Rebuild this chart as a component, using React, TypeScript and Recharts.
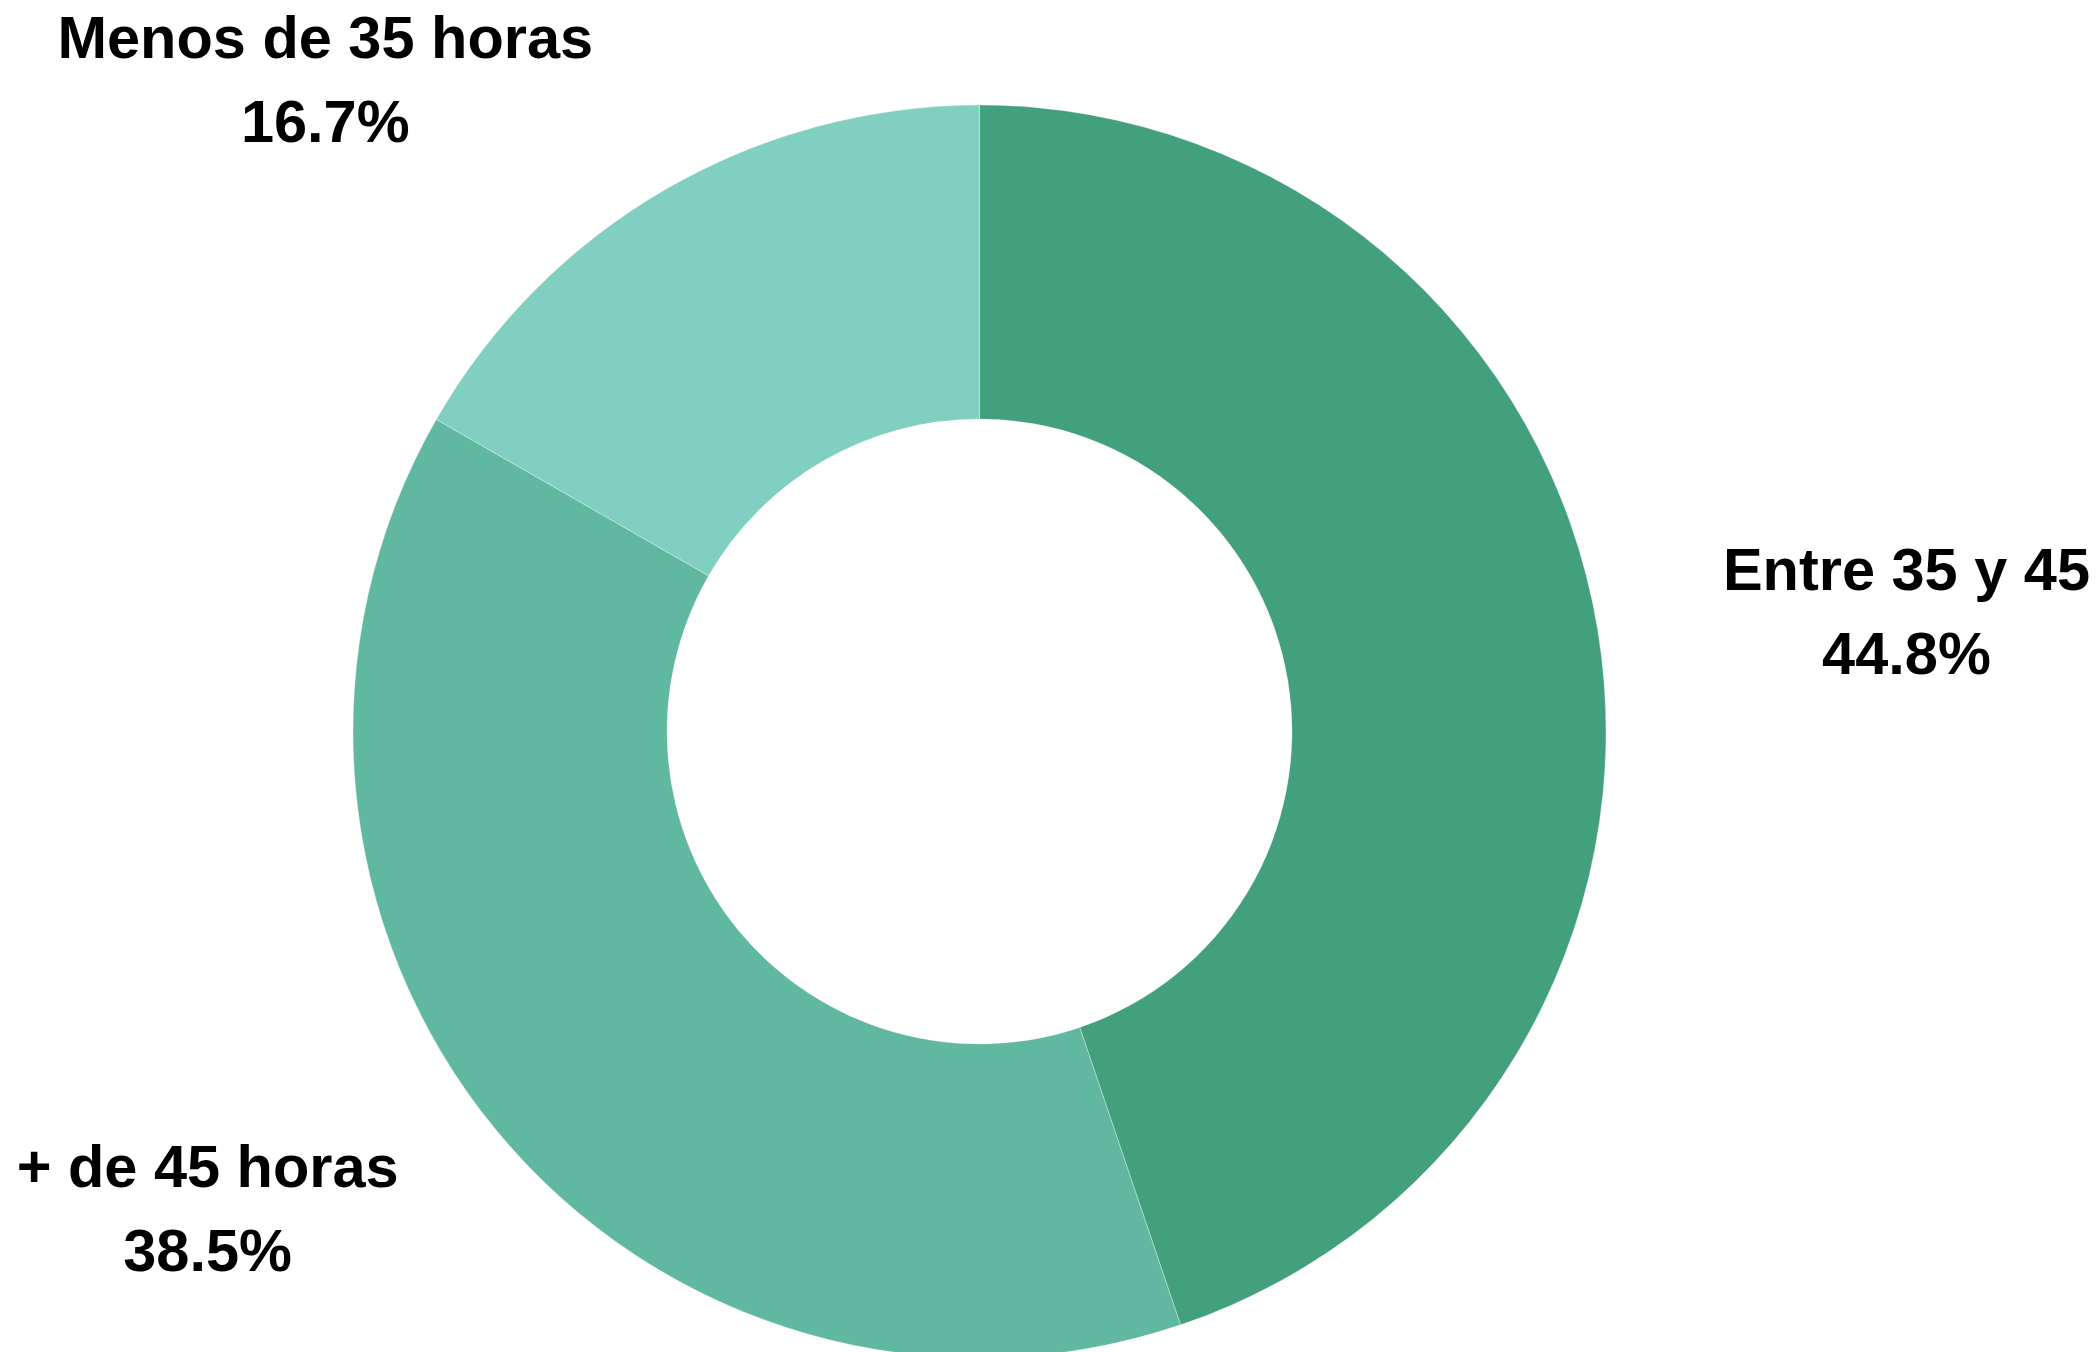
import { Cell, Pie, PieChart } from "recharts";

const categories = ["Entre 35 y 45", "+ de 45 horas", "Menos de 35 horas"];
const shares = [44.8, 38.5, 16.7];
const colors = ["#43a07c", "#61b8a0", "#81cfc0"];

const WIDTH = 2100;
const HEIGHT = 1352;
const RAD = Math.PI / 180;

const data = categories.map((name, i) => ({ name, value: shares[i] }));

type LabelProps = {
  cx?: number;
  cy?: number;
  midAngle?: number;
  outerRadius?: number;
  name?: string;
  value?: number;
};

// labels placed outside the ring (a bit lowered), kept inside the canvas and slid along an ellipse
function SliceLabel({ cx = 0, cy = 0, midAngle = 0, outerRadius = 0, name, value }: LabelProps) {
  const dist = outerRadius * 1.465;
  const rx = outerRadius * 1.489;
  const ry = outerRadius * 1.414;
  const sx = Math.sign(Math.cos(-midAngle * RAD)) || 1;
  const rawY = cy + dist * Math.sin(-midAngle * RAD) + 50;
  const minY = 100;
  const maxY = HEIGHT - 123;
  const y = Math.min(maxY, Math.max(minY, rawY));
  const dy = y - cy;
  const x = cx + sx * rx * Math.sqrt(Math.max(0, 1 - (dy / ry) ** 2));
  const font = {
    textAnchor: "middle" as const,
    fontFamily: "'Liberation Sans', Arial, sans-serif",
    fontWeight: "bold",
    fontSize: 59.5,
    fill: "#000",
  };
  return (
    <g>
      <text x={x} y={y - 42} {...font}>
        {name}
      </text>
      <text x={x} y={y + 42} {...font}>
        {`${Number(value).toFixed(1)}%`}
      </text>
    </g>
  );
}

export default function App() {
  return (
    <div style={{ width: WIDTH, height: HEIGHT, background: "#fff", overflow: "hidden" }}>
      <style>{`body{margin:0}`}</style>
      <PieChart width={WIDTH} height={HEIGHT} margin={{ top: 0, right: 0, bottom: 0, left: 0 }}>
        <Pie
          data={data}
          dataKey="value"
          nameKey="name"
          cx={979.5}
          cy={731.5}
          innerRadius={312.5}
          outerRadius={626.5}
          startAngle={90}
          endAngle={-270}
          stroke="#ffffff"
          strokeWidth={0.5}
          strokeOpacity={0.6}
          label={<SliceLabel />}
          labelLine={false}
          isAnimationActive={false}
        >
          {data.map((row, idx) => (
            <Cell key={row.name} fill={colors[idx]} />
          ))}
        </Pie>
      </PieChart>
    </div>
  );
}
